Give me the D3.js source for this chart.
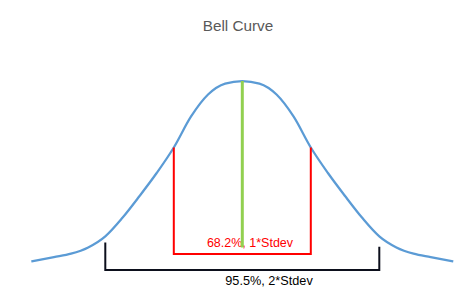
<!DOCTYPE html>
<html>
<head>
<meta charset="utf-8">
<script src="https://cdn.jsdelivr.net/npm/d3@7"></script>
<style>
  body { margin: 0; background: #fff; }
  svg { display: block; font-family: "Liberation Sans", Arial, sans-serif; }
</style>
</head>
<body>
<div id="chart"></div>
<script>
// z-scores (in stdev units) and the curve height
var zValues = [-3.08, -2.75, -2.5, -2.25, -2, -1.75, -1.5, -1.25, -1, -0.75, -0.5, -0.25, 0,
               0.25, 0.5, 0.75, 1, 1.25, 1.5, 1.75, 2, 2.25, 2.5, 2.75, 3.08];
var density = [0.0182, 0.0272, 0.0344, 0.0477, 0.0711, 0.1102, 0.1562, 0.2047, 0.2586, 0.3236, 0.3704, 0.3935, 0.3989,
               0.3935, 0.3704, 0.3236, 0.2586, 0.2047, 0.1562, 0.1102, 0.0711, 0.0477, 0.0344, 0.0272, 0.0182];

// annotation markers
var oneSd = [-1, 1];
var oneSdLabel = "68.2%, 1*Stdev";
var oneSdBase = 0.0338;
var twoSd = [-2, 2];
var twoSdLabel = "95.5%, 2*Stdev";
var twoSdTop = [0.058, 0.0492];
var meanBase = 0.0475;
var title = "Bell Curve";

var width = 474, height = 305;

var svg = d3.select("#chart")
  .append("svg")
    .attr("width", width)
    .attr("height", height);

var x = d3.scaleLinear()
  .domain([-3, 3])
  .range([242.3 - 205.5, 242.3 + 205.5]);

var y = d3.scaleLinear()
  .domain([0, 0.4])
  .range([270, 80.5]);

var data = zValues.map(function(z, i) { return {z: z, v: density[i]}; });

// title
svg.append("text")
  .attr("x", 238)
  .attr("y", 30.5)
  .attr("text-anchor", "middle")
  .style("font-size", "15.3px")
  .style("fill", "#595959")
  .text(title);

// bell curve
var line = d3.line()
  .x(function(d) { return x(d.z); })
  .y(function(d) { return y(d.v); })
  .curve(d3.curveMonotoneX);

svg.append("path")
  .datum(data)
  .attr("d", line)
  .attr("fill", "none")
  .attr("stroke", "#5B9BD5")
  .attr("stroke-width", 2.25);

// black 2*stdev bracket
svg.append("path")
  .attr("d", d3.line()([
    [x(twoSd[0]), y(twoSdTop[0])],
    [x(twoSd[0]), y(0)],
    [x(twoSd[1]), y(0)],
    [x(twoSd[1]), y(twoSdTop[1])]
  ]))
  .attr("fill", "none")
  .attr("stroke", "#0c0f1c")
  .attr("stroke-width", 2);

// red 1*stdev box
var topAt1 = density[zValues.indexOf(1)];
svg.append("path")
  .attr("d", d3.line()([
    [x(oneSd[0]), y(topAt1)],
    [x(oneSd[0]), y(oneSdBase)],
    [x(oneSd[1]), y(oneSdBase)],
    [x(oneSd[1]), y(topAt1)]
  ]))
  .attr("fill", "none")
  .attr("stroke", "#FF0000")
  .attr("stroke-width", 2);

// red label
svg.append("text")
  .attr("x", 250)
  .attr("y", 247.3)
  .attr("text-anchor", "middle")
  .style("font-size", "12.5px")
  .style("fill", "#FF0000")
  .text(oneSdLabel);

// green mean line
svg.append("line")
  .attr("x1", x(0)).attr("x2", x(0))
  .attr("y1", y(d3.max(density)))
  .attr("y2", y(meanBase))
  .attr("stroke", "#92D050")
  .attr("stroke-width", 3);

// black label
svg.append("text")
  .attr("x", 269)
  .attr("y", 285)
  .attr("text-anchor", "middle")
  .style("font-size", "12.7px")
  .style("fill", "#000")
  .text(twoSdLabel);
</script>
</body>
</html>
